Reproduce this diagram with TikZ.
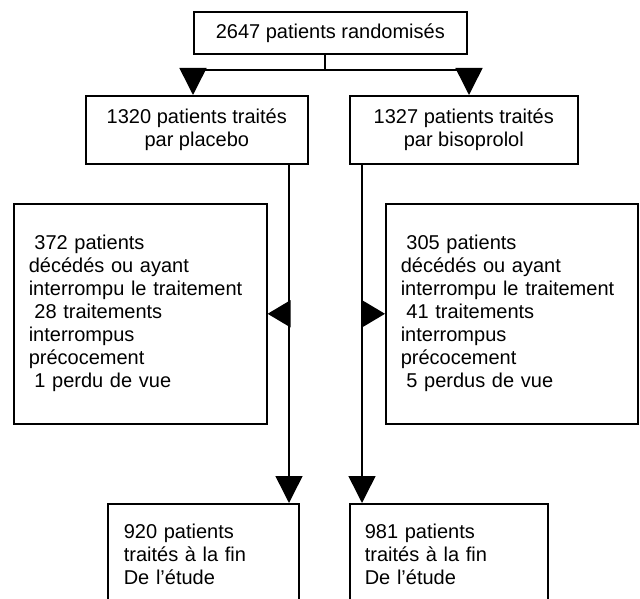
\documentclass[tikz,border=0pt]{standalone}
\usepackage{fontspec}
\setmainfont{Liberation Sans}
\usetikzlibrary{arrows.meta}
\begin{document}
\begin{tikzpicture}[x=1pt,y=-1pt,
  box/.style={draw,line width=1.6pt,inner ysep=0pt,anchor=north west,font=\fontsize{20}{23}\selectfont},
  ln/.style={line width=1.5pt},
  arr/.style={line width=1.5pt,-{Triangle[length=27pt,width=27pt]}},
  sarr/.style={line width=1.5pt,-{Triangle[length=23pt,width=27pt]}}]
\useasboundingbox (0,0) rectangle (640,599);
\clip (0,0) rectangle (640,599);
% boxes
\node[box,minimum width=273pt,minimum height=42pt,inner xsep=0pt,align=center] (top) at (193,11) {2647 patients randomisés};
\node[box,minimum width=222pt,minimum height=68pt,inner xsep=0pt,align=center] (midL) at (85,95) {1320 patients traités\\par placebo};
\node[box,minimum width=228pt,minimum height=68pt,inner xsep=0pt,align=center] (midR) at (349,95) {1327 patients traités\\par bisoprolol};
\node[box,text width=223pt,inner xsep=15pt,minimum height=220pt,align=left] (bigL) at (13,203)
  {\hspace*{0.28em}372 patients\\décédés ou ayant\\interrompu le traitement\\\hspace*{0.28em}28 traitements\\interrompus\\précocement\\\hspace*{0.28em}1 perdu de vue};
\node[box,text width=222pt,inner xsep=15pt,minimum height=220pt,align=left] (bigR) at (385,203)
  {\hspace*{0.28em}305 patients\\décédés ou ayant\\interrompu le traitement\\\hspace*{0.28em}41 traitements\\interrompus\\précocement\\\hspace*{0.28em}5 perdus de vue};
\node[box,text width=159pt,inner xsep=16pt,minimum height=102pt,align=left] (botL) at (107,503)
  {920 patients\\traités à la fin\\De l’étude};
\node[box,text width=168pt,inner xsep=15pt,minimum height=102pt,align=left] (botR) at (349,503)
  {981 patients\\traités à la fin\\De l’étude};
% connectors
\coordinate (split) at (325,70);
\coordinate (jl) at (193,70);
\coordinate (jr) at (469,70);
\coordinate (vl) at (289,0);
\coordinate (vr) at (362,0);
\draw[ln] (top.south -| split) -- (split);
\draw[ln] (jl) -- (jr);
\draw[arr] (jl) -- (jl |- midL.north);
\draw[arr] (jr) -- (jr |- midR.north);
\draw[arr] (midL.south -| vl) -- (botL.north -| vl);
\draw[arr] (midR.south -| vr) -- (botR.north -| vr);
\draw[sarr] (bigL.east -| vl) -- (bigL.east);
\draw[sarr] (bigR.west -| vr) -- (bigR.west);
\end{tikzpicture}
\end{document}
